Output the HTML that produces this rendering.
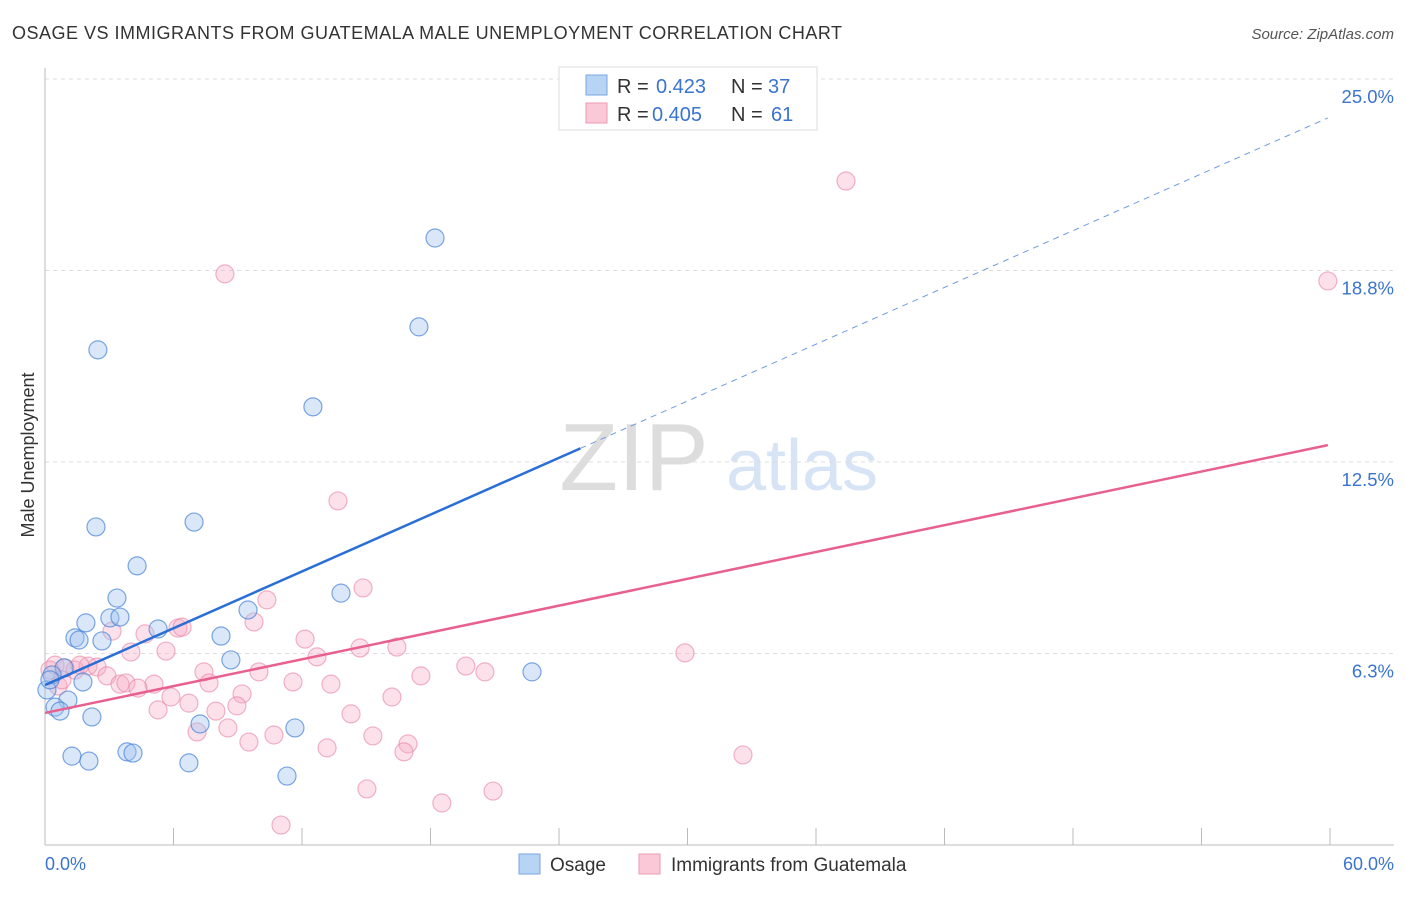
<!DOCTYPE html>
<html><head><meta charset="utf-8"><style>
body{margin:0;background:#fff;font-family:"Liberation Sans",sans-serif}
svg text{font-family:"Liberation Sans",sans-serif}
</style></head><body>
<svg width="1406" height="892" xmlns="http://www.w3.org/2000/svg">
<text x="12" y="39" font-size="18" fill="#333" textLength="830">OSAGE VS IMMIGRANTS FROM GUATEMALA MALE UNEMPLOYMENT CORRELATION CHART</text>
<text x="1394" y="39" font-size="15" fill="#555" text-anchor="end" font-style="italic">Source: ZipAtlas.com</text>
<g><text x="634" y="490" font-size="96" fill="#ddd" font-family="Liberation Serif" text-anchor="middle">ZIP</text><text x="802" y="490" font-size="72" fill="#d6e4f5" text-anchor="middle">atlas</text></g>
<g id="grid"></g>
<line x1="45" y1="68" x2="45" y2="845" stroke="#bbb"/>
<line x1="45" y1="845" x2="1394" y2="845" stroke="#bbb"/>
<g id="pts"></g>
<text x="34" y="455" font-size="18" fill="#333" text-anchor="middle" transform="rotate(-90 34 455)">Male Unemployment</text>
<text x="45" y="870" font-size="18" fill="#3a74d0">0.0%</text>
<text x="1394" y="870" font-size="18" fill="#3a74d0" text-anchor="end">60.0%</text>
<g>
<rect x="559" y="67" width="258" height="63" fill="#fff" stroke="#ddd"/>
<rect x="586" y="75" width="21" height="20" fill="#b8d4f5" stroke="#7aa6e0"/>
<rect x="586" y="103" width="21" height="20" fill="#fac8d6" stroke="#ec9ab3"/>
<text x="617" y="93" font-size="20" fill="#333">R =</text><text x="656" y="93" font-size="20" fill="#3a74d0">0.423</text>
<text x="731" y="93" font-size="20" fill="#333">N =</text><text x="768" y="93" font-size="20" fill="#3a74d0">37</text>
<text x="617" y="121" font-size="20" fill="#333">R =</text><text x="652" y="121" font-size="20" fill="#3a74d0">0.405</text>
<text x="731" y="121" font-size="20" fill="#333">N =</text><text x="771" y="121" font-size="20" fill="#3a74d0">61</text>
</g>
<g>
<rect x="519" y="854" width="21" height="20" fill="#b8d4f5" stroke="#7aa6e0"/>
<text x="550" y="871" font-size="19" fill="#333">Osage</text>
<rect x="639" y="854" width="21" height="20" fill="#fac8d6" stroke="#ec9ab3"/>
<text x="671" y="871" font-size="19" fill="#333">Immigrants from Guatemala</text>
</g>
</svg>
<script>
const yTicks=[6.25,12.5,18.75,25];
const yTickLabels=["6.3%","12.5%","18.8%","25.0%"];
const osageX=[18.21,17.46,2.47,12.51,2.38,6.96,4.30,3.36,13.82,9.48,1.91,3.03,3.50,5.28,1.40,1.59,2.66,8.22,8.68,0.89,1.77,0.33,0.09,1.07,0.47,0.70,2.19,7.24,11.67,1.26,2.05,3.83,4.11,6.72,11.30,22.74,0.23];
const osageY=[19.81,16.91,16.16,14.30,10.38,10.54,9.11,8.06,8.22,7.67,7.25,7.41,7.44,7.05,6.76,6.69,6.66,6.82,6.04,5.78,5.32,5.55,5.06,4.73,4.50,4.37,4.18,3.95,3.82,2.90,2.74,3.04,3.00,2.68,2.25,5.65,5.39];
const guatX=[37.40,59.90,8.40,13.68,14.85,10.36,9.76,3.13,4.67,6.21,6.40,12.14,5.65,4.01,16.43,14.71,12.70,29.88,19.65,20.54,7.42,9.99,0.47,0.93,1.40,2.01,2.43,1.63,2.89,3.50,3.78,5.09,4.34,7.66,11.58,13.35,17.55,0.61,5.88,9.20,6.72,16.20,5.28,7.98,8.96,14.29,8.54,7.10,10.69,9.52,15.31,16.95,16.76,13.17,32.59,15.03,18.53,20.92,11.02,0.23,0.79];
const guatY=[21.67,18.41,18.64,11.23,8.39,8.00,7.28,6.98,6.89,7.08,7.11,6.72,6.33,6.30,6.46,6.43,6.14,6.27,5.84,5.65,5.65,5.65,5.87,5.78,5.71,5.84,5.81,5.87,5.52,5.25,5.29,5.25,5.12,5.29,5.32,5.25,5.52,5.19,4.83,4.93,4.63,4.83,4.41,4.37,4.54,4.28,3.82,3.69,3.59,3.36,3.56,3.30,3.04,3.17,2.94,1.83,1.37,1.76,0.65,5.71,5.39];
const osageLine=[5.22,23.73];
const guatLine=[4.31,13.05];
const NS="http://www.w3.org/2000/svg";
const sx=v=>45+v*1285/60, sy=v=>845-v*30.64;
function mk(t,a,p){const e=document.createElementNS(NS,t);for(const k in a)e.setAttribute(k,a[k]);p.appendChild(e);return e;}
const grid=document.getElementById('grid');
yTicks.forEach((t,i)=>{
 const l=mk('line',{x1:45,x2:1394,y1:sy(t),y2:sy(t),stroke:'#ddd','stroke-dasharray':'4,4'},grid);
 
 
 const tx=mk('text',{x:1394,y:sy(t)+24,'font-size':18.5,fill:'#3a74d0','text-anchor':'end'},grid);
 tx.textContent=yTickLabels[i];
 
 
});
for(let i=1;i<=10;i++){const l=mk('line',{x1:sx(i*6),x2:sx(i*6),y1:828,y2:845,stroke:'#bbb'},grid);
 
 }
const pts=document.getElementById('pts');
guatX.forEach((x,i)=>{const c=mk('circle',{cx:sx(x),cy:sy(guatY[i]),r:9,fill:'rgba(246,170,195,0.35)',stroke:'rgba(232,130,165,0.6)','stroke-width':1.2},pts);
 
 });
osageX.forEach((x,i)=>{const c=mk('circle',{cx:sx(x),cy:sy(osageY[i]),r:9,fill:'rgba(160,196,240,0.4)',stroke:'rgba(70,130,215,0.7)','stroke-width':1.2},pts);
 
 });
const at=(l,x)=>l[0]+(l[1]-l[0])*x/59.9;
let b=mk('line',{x1:sx(0),y1:sy(at(osageLine,0)),x2:sx(25),y2:sy(at(osageLine,25)),stroke:'#2a6fd6','stroke-width':2.5},pts);


b=mk('line',{x1:sx(25),y1:sy(at(osageLine,25)),x2:sx(59.9),y2:sy(at(osageLine,59.9)),stroke:'#6e9be0','stroke-width':1,'stroke-dasharray':'6,5'},pts);


b=mk('line',{x1:sx(0),y1:sy(at(guatLine,0)),x2:sx(59.9),y2:sy(at(guatLine,59.9)),stroke:'#e8608e','stroke-width':2.5},pts);


</script>
</body></html>
